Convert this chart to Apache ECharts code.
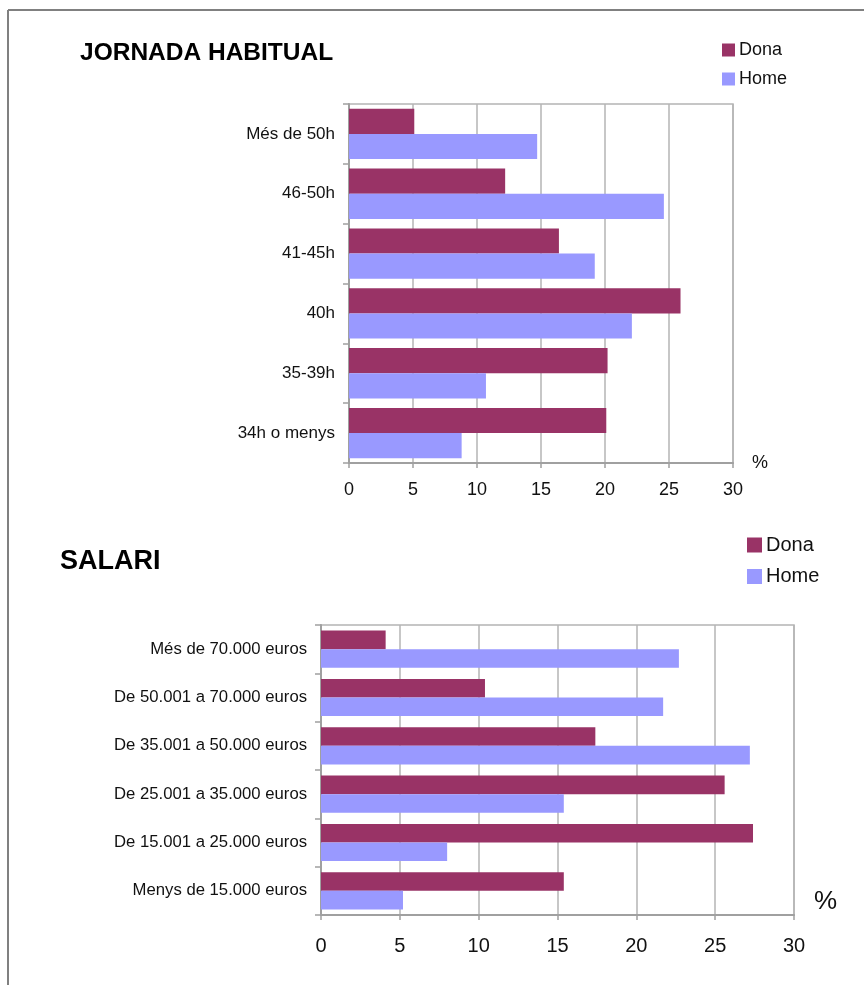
<!DOCTYPE html>
<html>
<head>
<meta charset="utf-8">
<script src="https://cdn.jsdelivr.net/npm/echarts@6/dist/echarts.min.js"></script>
<style>
html,body{margin:0;padding:0;background:#fff;}
#c{width:864px;height:985px;}
</style>
</head>
<body>
<div id="c"></div>
<script>
// Data (top-to-bottom order as displayed)
const jornadaCats = ["Més de 50h", "46-50h", "41-45h", "40h", "35-39h", "34h o menys"];
const jornadaDona = [5.1, 12.2, 16.4, 25.9, 20.2, 20.1];
const jornadaHome = [14.7, 24.6, 19.2, 22.1, 10.7, 8.8];

const salariCats = ["Més de 70.000 euros", "De 50.001 a 70.000 euros", "De 35.001 a 50.000 euros",
  "De 25.001 a 35.000 euros", "De 15.001 a 25.000 euros", "Menys de 15.000 euros"];
const salariDona = [4.1, 10.4, 17.4, 25.6, 27.4, 15.4];
const salariHome = [22.7, 21.7, 27.2, 15.4, 8.0, 5.2];

const xTicks = [0, 5, 10, 15, 20, 25, 30];
const seriesNames = ["Dona", "Home"];

const DONA = "#993366", HOME = "#9999FF";
const FONT = "Liberation Sans, Arial, sans-serif";
const chart = echarts.init(document.getElementById('c'), null, {renderer: 'canvas'});

function xAxisCfg(gridIndex, fs, margin, nameFs, nameGap, nameVA) {
  return {
    type: 'value', gridIndex, min: xTicks[0], max: xTicks[xTicks.length - 1], interval: xTicks[1] - xTicks[0],
    axisLine: {show: true, lineStyle: {color: '#a0a0a0', width: 2}},
    axisTick: {show: true, length: 5, lineStyle: {color: '#a0a0a0', width: 1.5}},
    splitLine: {show: true, lineStyle: {color: '#b4b4b4', width: 1.5}},
    axisLabel: {fontSize: fs, color: '#111', fontFamily: FONT, margin},
    name: '%', nameLocation: 'end', nameGap,
    nameTextStyle: {fontSize: nameFs, color: '#111', fontFamily: FONT, align: 'left', verticalAlign: nameVA}
  };
}
function yAxisCfg(gridIndex, cats, fs) {
  return {
    type: 'category', gridIndex, data: cats, inverse: true,
    axisLine: {show: true, lineStyle: {color: '#a0a0a0', width: 2}},
    axisTick: {show: true, length: 6, lineStyle: {color: '#a0a0a0', width: 1.5}},
    splitLine: {show: false},
    axisLabel: {fontSize: fs, color: '#111', fontFamily: FONT, margin: 14}
  };
}

const option = {
  animation: false,
  backgroundColor: '#fff',
  title: [
    {text: 'JORNADA HABITUAL', left: 80, top: 41, padding: 0,
     textStyle: {fontSize: 24.5, fontWeight: 'bold', color: '#000', fontFamily: FONT}},
    {text: 'SALARI', left: 60, top: 548, padding: 0,
     textStyle: {fontSize: 27, fontWeight: 'bold', color: '#000', fontFamily: FONT}}
  ],
  legend: [
    {data: seriesNames, orient: 'vertical', left: 722, top: 41, padding: 0, itemGap: 11,
     itemWidth: 13, itemHeight: 13, icon: 'rect',
     textStyle: {fontSize: 18, color: '#111', fontFamily: FONT, padding: [0, 0, 0, -1]}},
    {data: seriesNames, orient: 'vertical', left: 747, top: 535, padding: 0, itemGap: 11.5,
     itemWidth: 15, itemHeight: 15, icon: 'rect',
     textStyle: {fontSize: 20, color: '#111', fontFamily: FONT, padding: [0, 0, 0, -1]}}
  ],
  grid: [
    {left: 349, top: 104, width: 384, height: 359, show: true, borderColor: '#b4b4b4', borderWidth: 1.5},
    {left: 321, top: 625, width: 473, height: 290, show: true, borderColor: '#b4b4b4', borderWidth: 1.5}
  ],
  xAxis: [
    xAxisCfg(0, 18, 18, 18, 19, 'middle'),
    xAxisCfg(1, 20, 21, 26, 20, 'bottom')
  ],
  yAxis: [
    yAxisCfg(0, jornadaCats, 17),
    yAxisCfg(1, salariCats, 16.7)
  ],
  series: [
    {name: 'Dona', type: 'bar', xAxisIndex: 0, yAxisIndex: 0, data: jornadaDona,
     itemStyle: {color: DONA}, barGap: '0%', barCategoryGap: '16%'},
    {name: 'Home', type: 'bar', xAxisIndex: 0, yAxisIndex: 0, data: jornadaHome,
     itemStyle: {color: HOME}, barGap: '0%', barCategoryGap: '16%'},
    {name: 'Dona', type: 'bar', xAxisIndex: 1, yAxisIndex: 1, data: salariDona,
     itemStyle: {color: DONA}, barGap: '0%', barCategoryGap: '23%'},
    {name: 'Home', type: 'bar', xAxisIndex: 1, yAxisIndex: 1, data: salariHome,
     itemStyle: {color: HOME}, barGap: '0%', barCategoryGap: '23%'}
  ],
  graphic: [
    {type: 'line', shape: {x1: 8, y1: 10, x2: 864, y2: 10}, style: {stroke: '#808080', lineWidth: 2}, silent: true},
    {type: 'line', shape: {x1: 8, y1: 10, x2: 8, y2: 985}, style: {stroke: '#808080', lineWidth: 2}, silent: true}
  ]
};
chart.setOption(option);
</script>
</body>
</html>
